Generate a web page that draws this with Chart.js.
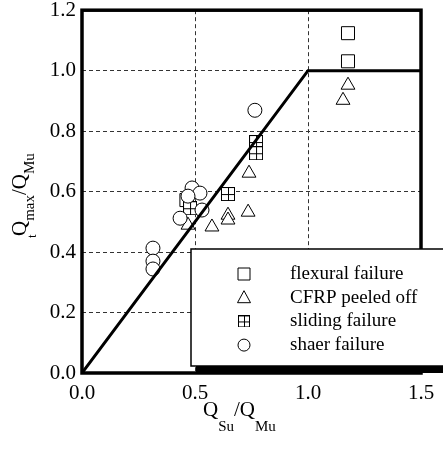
<!DOCTYPE html>
<html>
<head>
<meta charset="UTF-8">
<title>Q/Q</title>
<script src="https://cdn.jsdelivr.net/npm/chart.js@4"></script>
<style>
  body { margin: 0; background: #fff; }
  #wrap { width: 443px; height: 450px; }
</style>
</head>
<body>
<div id="wrap"><canvas id="chart" width="443" height="450"></canvas></div>
<script>
  // data (x = Qsu/Qmu, y = Qtmax/Qmu)
  const flexural = [[1.177, 1.124], [1.177, 1.031], [0.462, 0.572]];
  const peeled = [[1.177, 0.952], [1.155, 0.902], [0.739, 0.661], [0.735, 0.532],
                  [0.646, 0.522], [0.646, 0.506], [0.575, 0.483], [0.469, 0.489]];
  const sliding = [[0.77, 0.764], [0.77, 0.727], [0.646, 0.592], [0.478, 0.545]];
  const shear = [[0.487, 0.612], [0.522, 0.595], [0.469, 0.585], [0.531, 0.539],
                 [0.434, 0.512], [0.314, 0.413], [0.314, 0.370], [0.314, 0.344], [0.765, 0.869]];
  const envelope = [[0, 0], [1, 1], [1.5, 1]];
  const legendLabels = ['flexural failure', 'CFRP peeled off', 'sliding failure', 'shaer failure'];
  const xTicks = [0, 0.5, 1.0, 1.5];
  const yTicks = [0, 0.2, 0.4, 0.6, 0.8, 1.0, 1.2];

  const serif = '"Liberation Serif", "Times New Roman", serif';
  const toXY = arr => arr.map(p => ({ x: p[0], y: p[1] }));

  // square with a cross for the sliding failures
  function crossBox(size) {
    const c = document.createElement('canvas');
    c.width = size; c.height = size;
    const g = c.getContext('2d');
    g.fillStyle = '#fff';
    g.fillRect(0, 0, size, size);
    g.strokeStyle = '#000';
    g.lineWidth = 1;
    g.strokeRect(0.5, 0.5, size - 1, size - 1);
    const m = Math.floor(size / 2) + 0.5;
    g.beginPath();
    g.moveTo(m, 0); g.lineTo(m, size);
    g.moveTo(0, m); g.lineTo(size, m);
    g.stroke();
    return c;
  }
  const crossImg = crossBox(14);
  const crossSmall = crossBox(12);

  function pts(label, arr, style, r) {
    return {
      label: label,
      data: toXY(arr),
      pointStyle: style,
      pointRadius: r,
      pointHoverRadius: r,
      pointBackgroundColor: '#fff',
      pointBorderColor: '#000',
      pointBorderWidth: 1,
      showLine: false
    };
  }

  function drawSymbol(ctx, kind, x, y) {
    ctx.save();
    ctx.strokeStyle = '#000';
    ctx.fillStyle = '#fff';
    ctx.lineWidth = 1;
    ctx.beginPath();
    if (kind === 'rect') {
      ctx.rect(x - 6, y - 6, 12, 12);
    } else if (kind === 'triangle') {
      ctx.moveTo(x, y - 7);
      ctx.lineTo(x + 6.5, y + 5);
      ctx.lineTo(x - 6.5, y + 5);
      ctx.closePath();
    } else if (kind === 'circle') {
      ctx.arc(x, y, 6, 0, Math.PI * 2);
    }
    ctx.fill();
    ctx.stroke();
    if (kind === 'cross') ctx.drawImage(crossSmall, x - 6, y - 6);
    ctx.restore();
  }

  const decor = {
    id: 'decor',
    afterDraw(chart) {
      const ctx = chart.ctx;
      const a = chart.chartArea;
      ctx.save();
      // thick frame
      ctx.strokeStyle = '#000';
      ctx.lineWidth = 3.5;
      ctx.strokeRect(a.left, a.top, a.right - a.left, a.bottom - a.top);

      // legend box with shadow
      const lx = 191, ly = 249, lw = 260, lh = 117;
      ctx.fillStyle = '#000';
      ctx.fillRect(lx + 5, ly + 5, lw, lh + 2);
      ctx.fillStyle = '#fff';
      ctx.fillRect(lx, ly, lw, lh);
      ctx.lineWidth = 1.5;
      ctx.strokeRect(lx, ly, lw, lh);
      const kinds = ['rect', 'triangle', 'cross', 'circle'];
      ctx.font = '19px ' + serif;
      ctx.textBaseline = 'middle';
      ctx.textAlign = 'left';
      kinds.forEach((k, i) => {
        const yy = 274 + i * 23.7;
        drawSymbol(ctx, k, 244, yy);
        ctx.fillStyle = '#000';
        ctx.fillText(legendLabels[i], 290, yy);
      });

      // x axis title: Q_Su / Q_Mu
      ctx.fillStyle = '#000';
      ctx.textBaseline = 'alphabetic';
      const big = '21px ' + serif, small = '15px ' + serif;
      let x = 203;
      const parts = [['Q', big, 0], ['Su', small, 15], ['/Q', big, 0], ['Mu', small, 15]];
      parts.forEach(p => {
        ctx.font = p[1];
        ctx.fillText(p[0], x, 416 + p[2]);
        x += ctx.measureText(p[0]).width;
      });

      // y axis title, rotated: t Q_max / Q_Mu
      ctx.translate(26, 238);
      ctx.rotate(-Math.PI / 2);
      ctx.font = '13px ' + serif;
      ctx.fillText('t', 0, 10);
      let u = 2;
      const yparts = [['Q', big, 0], ['max', small, 8], ['/Q', big, 0], ['Mu', small, 8]];
      yparts.forEach(p => {
        ctx.font = p[1];
        ctx.fillText(p[0], u, p[2]);
        u += ctx.measureText(p[0]).width;
      });
      ctx.restore();
    }
  };

  new Chart(document.getElementById('chart'), {
    type: 'scatter',
    data: {
      datasets: [
        {
          label: 'envelope',
          data: toXY(envelope),
          showLine: true,
          borderColor: '#000',
          borderWidth: 3,
          pointRadius: 0,
          fill: false
        },
        pts('shaer failure', shear, 'circle', 7),
        pts('sliding failure', sliding, crossImg, 7),
        pts('CFRP peeled off', peeled, 'triangle', 8),
        pts('flexural failure', flexural, 'rect', 9.2)
      ]
    },
    options: {
      responsive: false,
      animation: false,
      layout: { padding: { left: 0, top: 10, right: 22, bottom: 0 } },
      plugins: { legend: { display: false }, tooltip: { enabled: false } },
      scales: {
        x: {
          type: 'linear',
          min: 0, max: 1.5,
          afterBuildTicks: s => { s.ticks = xTicks.map(v => ({ value: v })); },
          afterFit: s => { s.height = 77; s.paddingLeft = 0; s.paddingRight = 0; },
          ticks: {
            color: '#000',
            font: { family: serif, size: 21 },
            padding: 8,
            maxRotation: 0,
            callback: v => v.toFixed(1)
          },
          grid: { color: '#333', lineWidth: 1, drawTicks: false },
          border: { display: false, dash: [4, 3] }
        },
        y: {
          type: 'linear',
          min: 0, max: 1.2,
          afterBuildTicks: s => { s.ticks = yTicks.map(v => ({ value: v })); },
          afterFit: s => { s.width = 82; s.paddingTop = 0; s.paddingBottom = 0; },
          ticks: {
            color: '#000',
            font: { family: serif, size: 21 },
            padding: 6,
            callback: v => v.toFixed(1)
          },
          grid: { color: '#333', lineWidth: 1, drawTicks: false },
          border: { display: false, dash: [4, 3] }
        }
      }
    },
    plugins: [decor]
  });
</script>
</body>
</html>
